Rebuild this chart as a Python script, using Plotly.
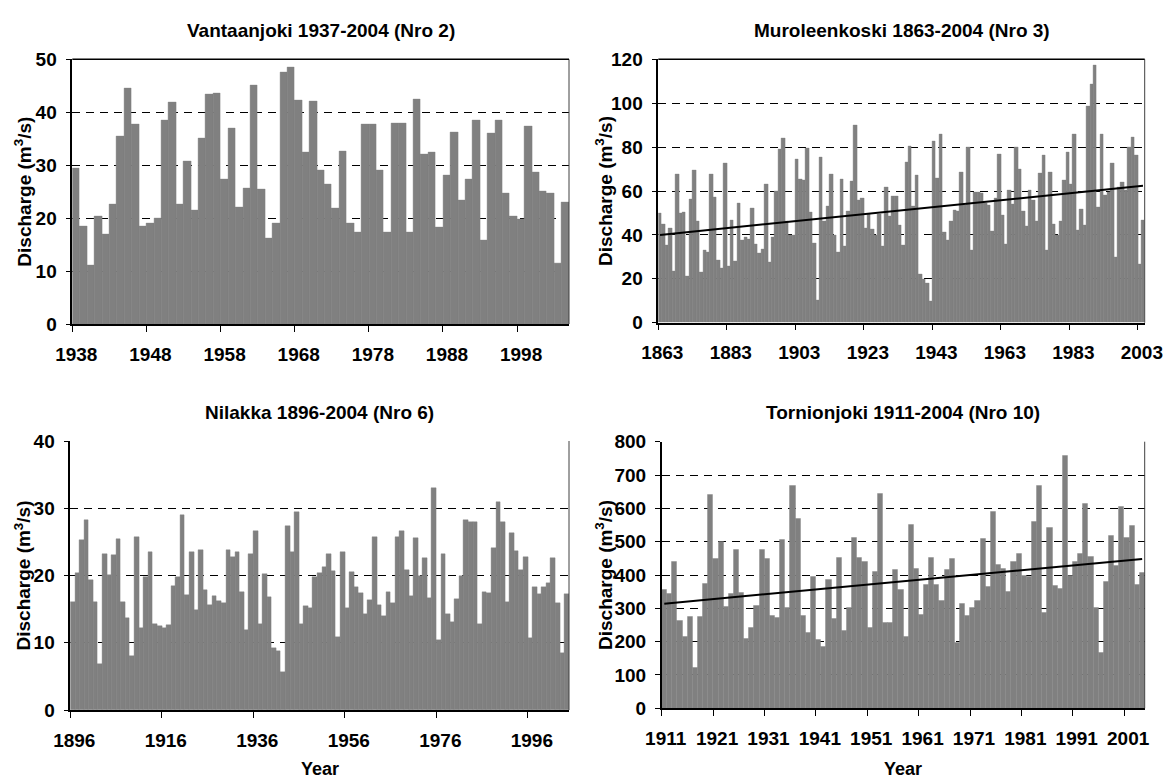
import plotly.graph_objects as go

# ---------------- data ----------------
vantaa_first_year = 1938
vantaa = [29.5, 18.5, 11.1, 20.4, 17.0, 22.7, 35.5, 44.6, 37.8, 18.5,
          19.1, 19.9, 38.5, 41.9, 22.7, 30.8, 21.5, 35.1, 43.3, 43.5,
          27.4, 37.0, 22.1, 25.7, 45.0, 25.5, 16.2, 19.1, 47.5, 48.4,
          42.2, 32.4, 42.0, 29.1, 26.4, 21.9, 32.7, 19.1, 17.3, 37.8,
          37.8, 29.1, 17.3, 38.0, 38.0, 17.3, 42.5, 32.1, 32.5, 18.3,
          28.0, 36.3, 23.4, 27.4, 38.4, 15.9, 36.1, 38.5, 24.7, 20.4,
          19.8, 37.4, 28.7, 25.1, 24.6, 11.5, 23.0]

muro_first_year = 1863
muro = [49.7, 45.0, 35.4, 43.1, 23.5, 67.7, 49.7, 50.4, 21.0, 56.4,
        69.6, 46.0, 22.8, 32.8, 31.9, 67.7, 57.3, 28.3, 24.6, 72.8,
        25.5, 46.8, 27.8, 54.2, 37.4, 39.0, 38.1, 52.3, 35.9, 31.7,
        33.6, 62.9, 27.3, 39.0, 59.9, 79.1, 83.9, 46.0,
        39.6, 39.6, 74.6, 65.5, 65.0, 79.6, 50.1, 36.2, 10.0, 75.5,
        46.0, 52.9, 67.7, 40.0, 32.0, 65.5, 35.0, 50.6, 64.6, 90.1,
        55.9, 56.8, 43.0, 49.5, 42.7, 40.0, 49.5, 34.9, 61.7, 48.6,
        57.7, 57.7, 44.5, 35.4, 73.2, 80.5, 53.2, 67.0, 22.0, 20.0,
        18.0, 9.6, 82.8, 65.9, 86.0, 41.0, 37.7, 46.0, 51.3, 50.9,
        68.7, 53.6, 79.8, 32.8, 59.5, 59.5,
        59.0, 54.4, 53.6, 41.5, 56.7, 76.9, 49.0, 35.9, 60.5, 54.0,
        79.9, 70.0, 50.6, 43.7, 60.5, 55.9, 46.0, 68.0, 76.4, 33.0,
        68.4, 45.0, 40.0, 46.0, 65.0, 77.6, 63.2, 86.0, 42.2, 51.8,
        44.5, 98.7, 108.8, 117.4, 52.4, 86.0, 57.9, 59.2, 72.6, 29.6,
        61.5, 64.1, 60.2, 79.9, 84.5, 76.3, 26.7, 46.8]
muro_trend = [40.0, 62.4]

nilakka_first_year = 1896
nilakka = [16.1, 20.4, 25.3, 28.3, 19.3, 16.1, 6.8, 23.2, 20.1, 23.0,
           25.4, 16.1, 13.7, 8.0, 25.7, 12.2, 19.8, 23.5, 12.8, 12.5,
           12.2, 12.6, 18.4, 19.8, 29.0, 17.1, 23.5, 14.9, 23.8, 17.9,
           15.6, 16.9, 16.2,
           15.9, 23.8, 22.8, 23.5, 17.5, 11.9, 23.2, 26.6, 12.8, 20.2,
           16.8, 9.2, 8.8, 5.7, 27.4, 23.5, 29.4, 12.8, 15.5, 15.1,
           19.8, 20.4, 21.2, 23.2, 20.7, 10.9, 23.5, 15.2, 20.5, 18.3,
           17.4, 14.3, 16.4, 25.7, 15.6,
           14.0, 17.5, 15.9, 25.7, 26.6, 20.8, 16.9, 25.6, 20.0, 22.6,
           16.7, 33.0, 10.4, 23.2, 14.3, 13.1, 16.5, 20.0, 28.2, 27.9,
           28.0, 12.8, 17.5, 17.4, 24.1, 30.9, 28.0, 16.1, 26.3, 23.6,
           20.8, 22.8, 10.7, 18.3, 17.2, 18.3, 18.9, 22.6, 15.9, 8.5, 17.2]

torn_first_year = 1911
torn = [355, 343, 439, 262, 215, 274, 121, 274, 373, 640,
        448, 499, 304, 343, 475, 346, 208, 241, 307, 475,
        448, 277, 271, 505, 301,
        667, 568, 277, 227, 394, 205, 184, 385, 268, 451,
        232, 301, 511, 451, 439, 241, 409, 643, 256, 256,
        415, 355, 214, 550, 418, 280, 370, 451, 370, 322,
        415, 448, 196,
        313, 277, 301, 322, 508, 364, 589, 430, 418, 349,
        439, 463, 397, 395, 559, 667, 286, 541, 367, 358,
        757, 397, 439, 463, 613, 454, 301, 166, 379, 517,
        427, 604, 511, 547, 370, 406]
torn_trend = [314, 448]

titles = ["Vantaanjoki 1937-2004 (Nro 2)", "Muroleenkoski 1863-2004 (Nro 3)",
          "Nilakka 1896-2004 (Nro 6)", "Tornionjoki 1911-2004 (Nro 10)"]
y_title = "Discharge (m<sup>3</sup>/s)"
x_title = "Year"

# ---------------- layout geometry ----------------
W, H = 1169, 780
FONT = "Liberation Sans"
FS = 19
BAR = "#808080"

panels = [
    dict(vals=vantaa, y0=vantaa_first_year, ymax=50, dy=10, dx=10,
         px=(72.3, 569), py=(59.3, 324), trend=None, ytx=23),
    dict(vals=muro, y0=muro_first_year, ymax=120, dy=20, dx=20,
         px=(658.3, 1144.7), py=(59.3, 322.7), trend=muro_trend, ytx=604),
    dict(vals=nilakka, y0=nilakka_first_year, ymax=40, dy=10, dx=20,
         px=(70.3, 569), py=(441, 710), trend=None, ytx=22),
    dict(vals=torn, y0=torn_first_year, ymax=800, dy=100, dx=10,
         px=(661.7, 1144.7), py=(441.7, 708.3), trend=torn_trend, ytx=604),
]

fig = go.Figure()
layout = dict(width=W, height=H,
              margin=dict(l=0, r=0, t=0, b=0, pad=0, autoexpand=False),
              paper_bgcolor="white", plot_bgcolor="white",
              showlegend=False, bargap=0, annotations=[], shapes=[])

tickfont = dict(family=FONT, size=FS, color="black", weight="bold")

for k, p in enumerate(panels):
    n = len(p["vals"])
    years = [p["y0"] + i for i in range(n)]
    xs = [y + 0.5 for y in years]
    ax = "" if k == 0 else str(k + 1)
    fig.add_trace(go.Bar(x=xs, y=p["vals"], width=1.0, marker_color=BAR,
                         marker_line_color=BAR, marker_line_width=0.4,
                         xaxis="x" + ax, yaxis="y" + ax))
    if p["trend"] is not None:
        fig.add_trace(go.Scatter(x=[xs[0], xs[-1]], y=p["trend"], mode="lines",
                                 line=dict(color="black", width=2),
                                 xaxis="x" + ax, yaxis="y" + ax))
    xd = [p["px"][0] / W, p["px"][1] / W]
    yd = [1 - p["py"][1] / H, 1 - p["py"][0] / H]
    layout["xaxis" + ax] = dict(
        domain=xd, range=[p["y0"], p["y0"] + n], tick0=p["y0"], dtick=p["dx"],
        showline=True, linecolor="black", linewidth=1.5, ticks="outside",
        ticklen=6, tickcolor="black", showgrid=False, zeroline=False,
        anchor="y" + ax, automargin=False, ticklabelstandoff=6,
        ticklabelshift=4, tickfont=tickfont)
    layout["yaxis" + ax] = dict(
        domain=yd, range=[0, p["ymax"]], dtick=p["dy"], tick0=0,
        showline=True, linecolor="black", linewidth=1.5, ticks="outside",
        ticklen=5, tickcolor="black", showgrid=True, gridcolor="black",
        gridwidth=1, griddash="8px,6px", zeroline=False, anchor="x" + ax,
        automargin=False, ticklabelstandoff=5, tickfont=tickfont)
    xr = "x" + ax + " domain"
    yr = "y" + ax + " domain"
    layout["shapes"].append(dict(type="line", xref=xr, yref=yr, x0=1, x1=1, y0=0, y1=1,
                                 line=dict(color="#404040", width=1)))
    if k < 2:
        layout["shapes"].append(dict(type="line", xref=xr, yref=yr, x0=0, x1=1, y0=1, y1=1,
                                     line=dict(color="black", width=1.5)))
    cx = (p["px"][0] + p["px"][1]) / 2 / W
    layout["annotations"].append(dict(
        text="<b>" + titles[k] + "</b>", x=cx, y=1 - (p["py"][0] - 29) / H,
        xref="paper", yref="paper", showarrow=False, xanchor="center", yanchor="middle",
        font=dict(family=FONT, size=FS, color="black")))
    layout["annotations"].append(dict(
        text="<b>" + y_title + "</b>", x=p["ytx"] / W, y=(yd[0] + yd[1]) / 2,
        xref="paper", yref="paper", showarrow=False, textangle=-90,
        xanchor="center", yanchor="middle",
        font=dict(family=FONT, size=FS, color="black")))
    if k >= 2:
        layout["annotations"].append(dict(
            text="<b>" + x_title + "</b>", x=cx, y=1 - 769 / H,
            xref="paper", yref="paper", showarrow=False, xanchor="center",
            yanchor="middle", font=dict(family=FONT, size=18, color="black")))

fig.update_layout(**layout)
fig.write_html("out.html",
               config={"displayModeBar": False},
               post_script="document.body.style.margin='0px';"
                           "document.body.style.overflow='hidden';")
